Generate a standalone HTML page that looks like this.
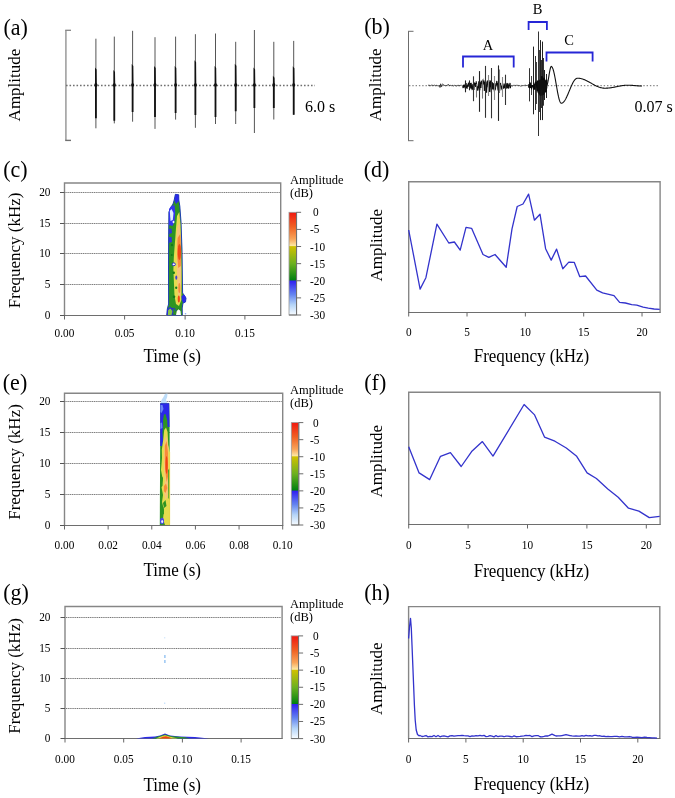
<!DOCTYPE html>
<html><head><meta charset="utf-8"><style>
html,body{margin:0;padding:0;background:#fff;}
svg{display:block;will-change:transform;}
text{font-family:"Liberation Serif",serif;fill:#000;}
</style></head><body>
<svg width="675" height="798" viewBox="0 0 675 798">
<defs>
<linearGradient id="cbg" x1="0" y1="0" x2="0" y2="1">
<stop offset="0" stop-color="#f01810"/>
<stop offset="0.14" stop-color="#f06022"/>
<stop offset="0.26" stop-color="#f8a458"/>
<stop offset="0.325" stop-color="#fde8a4"/>
<stop offset="0.334" stop-color="#d0c000"/>
<stop offset="0.5" stop-color="#6cb020"/>
<stop offset="0.66" stop-color="#008010"/>
<stop offset="0.668" stop-color="#3020f0"/>
<stop offset="0.8" stop-color="#6484f0"/>
<stop offset="0.9" stop-color="#b4d4f8"/>
<stop offset="1" stop-color="#f8fcff"/>
</linearGradient>
<filter id="soft" x="-0.2" y="-0.1" width="1.4" height="1.2"><feGaussianBlur stdDeviation="0.35"/></filter>
</defs>
<rect width="675" height="798" fill="#fff"/>
<text transform="translate(3.40 34.80) scale(1 1.05)" font-size="22" text-anchor="start">(a)</text>
<text transform="translate(364.30 34.30) scale(1 1.05)" font-size="22" text-anchor="start">(b)</text>
<text transform="translate(3.20 176.70) scale(1 1.05)" font-size="22" text-anchor="start">(c)</text>
<text transform="translate(363.80 176.80) scale(1 1.05)" font-size="22" text-anchor="start">(d)</text>
<text transform="translate(2.80 389.60) scale(1 1.05)" font-size="22" text-anchor="start">(e)</text>
<text transform="translate(364.30 389.90) scale(1 1.05)" font-size="22" text-anchor="start">(f)</text>
<text transform="translate(3.20 599.50) scale(1 1.05)" font-size="22" text-anchor="start">(g)</text>
<text transform="translate(364.30 599.80) scale(1 1.05)" font-size="22" text-anchor="start">(h)</text>
<line x1="65.90" y1="30.30" x2="65.90" y2="140.40" stroke="#9a9a9a" stroke-width="1.5" />
<line x1="65.20" y1="30.30" x2="71.00" y2="30.30" stroke="#858585" stroke-width="1.3" />
<line x1="65.20" y1="140.40" x2="71.00" y2="140.40" stroke="#707070" stroke-width="1.4" />
<line x1="66.00" y1="85.50" x2="315.00" y2="85.50" stroke="#707070" stroke-width="1.3" stroke-dasharray="1.6 1.9"/>
<text transform="translate(19.60 121.40) rotate(-90)" font-size="17" text-anchor="start">Amplitude</text>
<text transform="translate(305.00 112.00) scale(1 1.0)" font-size="16" text-anchor="start">6.0 s</text>
<line x1="95.90" y1="38.70" x2="95.90" y2="128.30" stroke="#555" stroke-width="1" />
<path d="M95.00,67.5 L96.60,69.5 L96.80,83 L97.50,85 L96.80,87 L96.80,118.2 L95.00,118.2 L95.00,87 L94.30,85 L95.00,83 Z" fill="#111"/>
<line x1="114.30" y1="36.60" x2="114.30" y2="123.40" stroke="#555" stroke-width="1" />
<path d="M113.40,70.1 L115.00,72.1 L115.20,83 L115.90,85 L115.20,87 L115.20,120.8 L113.40,120.8 L113.40,87 L112.70,85 L113.40,83 Z" fill="#111"/>
<line x1="132.60" y1="30.80" x2="132.60" y2="121.70" stroke="#555" stroke-width="1" />
<path d="M131.70,64 L133.30,66 L133.50,83 L134.20,85 L133.50,87 L133.50,112 L131.70,112 L131.70,87 L131.00,85 L131.70,83 Z" fill="#111"/>
<line x1="155.00" y1="37.20" x2="155.00" y2="128.90" stroke="#555" stroke-width="1" />
<path d="M154.10,66 L155.70,68 L155.90,83 L156.60,85 L155.90,87 L155.90,117 L154.10,117 L154.10,87 L153.40,85 L154.10,83 Z" fill="#111"/>
<line x1="175.60" y1="36.60" x2="175.60" y2="119.60" stroke="#555" stroke-width="1" />
<path d="M174.70,66 L176.30,68 L176.50,83 L177.20,85 L176.50,87 L176.50,113 L174.70,113 L174.70,87 L174.00,85 L174.70,83 Z" fill="#111"/>
<line x1="195.40" y1="34.20" x2="195.40" y2="127.80" stroke="#555" stroke-width="1" />
<path d="M194.50,60.3 L196.10,62.3 L196.30,83 L197.00,85 L196.30,87 L196.30,115 L194.50,115 L194.50,87 L193.80,85 L194.50,83 Z" fill="#111"/>
<line x1="215.50" y1="33.50" x2="215.50" y2="124.00" stroke="#555" stroke-width="1" />
<path d="M214.60,66 L216.20,68 L216.40,83 L217.10,85 L216.40,87 L216.40,117 L214.60,117 L214.60,87 L213.90,85 L214.60,83 Z" fill="#111"/>
<line x1="235.70" y1="41.80" x2="235.70" y2="124.00" stroke="#555" stroke-width="1" />
<path d="M234.80,63.8 L236.40,65.8 L236.60,83 L237.30,85 L236.60,87 L236.60,111.2 L234.80,111.2 L234.80,87 L234.10,85 L234.80,83 Z" fill="#111"/>
<line x1="254.40" y1="30.00" x2="254.40" y2="133.00" stroke="#555" stroke-width="1" />
<path d="M253.50,67.4 L255.10,69.4 L255.30,83 L256.00,85 L255.30,87 L255.30,108 L253.50,108 L253.50,87 L252.80,85 L253.50,83 Z" fill="#111"/>
<line x1="273.80" y1="41.80" x2="273.80" y2="119.50" stroke="#555" stroke-width="1" />
<path d="M272.90,75.7 L274.50,77.7 L274.70,83 L275.40,85 L274.70,87 L274.70,108 L272.90,108 L272.90,87 L272.20,85 L272.90,83 Z" fill="#111"/>
<line x1="293.70" y1="40.90" x2="293.70" y2="114.80" stroke="#555" stroke-width="1" />
<path d="M292.80,66.2 L294.40,68.2 L294.60,83 L295.30,85 L294.60,87 L294.60,114.8 L292.80,114.8 L292.80,87 L292.10,85 L292.80,83 Z" fill="#111"/>
<line x1="408.50" y1="31.30" x2="408.50" y2="140.70" stroke="#6c6c6c" stroke-width="1" />
<line x1="408.00" y1="31.30" x2="413.50" y2="31.30" stroke="#6c6c6c" stroke-width="1" />
<line x1="408.00" y1="140.70" x2="413.50" y2="140.70" stroke="#6c6c6c" stroke-width="1" />
<line x1="409.00" y1="85.60" x2="658.00" y2="85.60" stroke="#888" stroke-width="1.2" stroke-dasharray="1.4 1.9"/>
<text transform="translate(380.70 121.20) rotate(-90)" font-size="17" text-anchor="start">Amplitude</text>
<text transform="translate(634.50 112.00) scale(1 1.0)" font-size="16" text-anchor="start">0.07 s</text>
<path d="M463,67.5 L463,56.5 L513.7,56.5 L513.7,67.5" fill="none" stroke="#2626d6" stroke-width="1.8"/>
<text transform="translate(488.00 49.80) scale(1 1.04)" font-size="14.5" text-anchor="middle">A</text>
<path d="M528.6,30 L528.6,22 L546.9,22 L546.9,30" fill="none" stroke="#2626d6" stroke-width="1.8"/>
<text transform="translate(537.50 13.80) scale(1 1.04)" font-size="14.5" text-anchor="middle">B</text>
<path d="M546.5,61.5 L546.5,52.5 L592.6,52.5 L592.6,61.5" fill="none" stroke="#2626d6" stroke-width="1.8"/>
<text transform="translate(569.00 45.40) scale(1 1.04)" font-size="14.5" text-anchor="middle">C</text>
<path d="M428.00,85.42 L428.60,85.25 L429.20,85.75 L429.80,85.17 L430.40,85.64 L431.00,85.47 L431.60,85.16 L432.20,85.61 L432.80,85.14 L433.40,85.53 L434.00,85.17 L434.60,85.19 L435.20,85.52 L435.80,85.93 L436.40,85.22 L437.00,85.32 L437.60,85.73 L438.20,86.05 L438.80,85.68 L439.40,85.50 L440.00,87.51 L440.60,83.79 L441.20,87.03 L441.80,84.76 L442.40,84.18 L443.00,84.07 L443.60,84.83 L444.20,85.92 L444.80,85.28 L445.40,85.68 L446.00,85.74 L446.60,85.47 L447.20,85.71 L447.80,84.55 L448.40,84.54 L449.00,84.89 L449.60,86.03 L450.20,85.43 L450.80,85.15 L451.40,85.81 L452.00,85.55 L452.60,85.40 L453.20,85.89 L453.80,85.80 L454.40,85.34 L455.00,85.67 L455.60,85.63 L456.20,85.98 L456.80,85.83 L457.40,85.39 L458.00,86.08 L458.60,85.22 L459.20,85.52 L459.80,85.86 L460.40,85.25 L461.00,85.59 L461.60,85.14" fill="none" stroke="#222" stroke-width="0.8"/>
<path d="M462.50,86.55 L462.78,87.07 L463.06,86.07 L463.34,87.70 L463.62,84.69 L463.90,86.76 L464.18,86.22 L464.46,86.15 L464.74,85.47 L465.02,87.65 L465.30,88.28 L465.58,85.58 L465.86,86.70 L466.14,83.14 L466.42,86.96 L466.70,86.65 L466.98,88.80 L467.26,87.78 L467.54,84.42 L467.82,85.06 L468.10,86.89 L468.38,82.67 L468.66,85.56 L468.94,83.58 L469.22,83.21 L469.50,82.78 L469.78,87.74 L470.06,83.21 L470.34,84.04 L470.62,85.08 L470.90,88.66 L471.18,82.73 L471.46,85.52 L471.74,86.31 L472.02,88.96 L472.30,88.50 L472.58,88.91 L472.86,84.14 L473.14,85.27 L473.42,84.79 L473.70,89.31 L473.98,90.01 L474.26,82.93 L474.54,83.13 L474.82,83.61 L475.10,83.60 L475.38,85.93 L475.66,86.93 L475.94,83.82 L476.22,81.28 L476.50,85.32 L476.78,84.83 L477.06,86.81 L477.34,90.79 L477.62,88.14 L477.90,86.34 L478.18,87.44 L478.46,88.09 L478.74,81.38 L479.02,90.60 L479.30,89.33 L479.58,90.43 L479.86,89.62 L480.14,85.04 L480.42,85.11 L480.70,81.69 L480.98,87.86 L481.26,81.14 L481.54,81.17 L481.82,82.84 L482.10,82.26 L482.38,84.40 L482.66,80.88 L482.94,80.21 L483.22,82.05 L483.50,81.42 L483.78,84.67 L484.06,80.43 L484.34,91.08 L484.62,87.82 L484.90,81.94 L485.18,83.25 L485.46,84.45 L485.74,84.66 L486.02,81.58 L486.30,90.86 L486.58,92.71 L486.86,85.96 L487.14,86.19 L487.42,81.10 L487.70,81.31 L487.98,84.39 L488.26,83.40 L488.54,90.58 L488.82,82.09 L489.10,80.35 L489.38,92.07 L489.66,86.73 L489.94,81.95 L490.22,86.91 L490.50,80.49 L490.78,86.70 L491.06,92.22 L491.34,90.78 L491.62,88.72 L491.90,83.45 L492.18,84.73 L492.46,82.36 L492.74,89.51 L493.02,86.68 L493.30,89.52 L493.58,84.32 L493.86,83.11 L494.14,89.77 L494.42,91.66 L494.70,90.14 L494.98,89.58 L495.26,89.66 L495.54,88.77 L495.82,83.29 L496.10,86.36 L496.38,84.67 L496.66,81.34 L496.94,81.37 L497.22,83.93 L497.50,83.75 L497.78,87.98 L498.06,90.48 L498.34,85.58 L498.62,90.16 L498.90,90.57 L499.18,90.19 L499.46,84.82 L499.74,83.55 L500.02,83.63 L500.30,83.39 L500.58,83.48 L500.86,87.02 L501.14,89.27 L501.42,88.72 L501.70,85.78 L501.98,87.14 L502.26,88.25 L502.54,82.73 L502.82,87.12 L503.10,88.94 L503.38,87.95 L503.66,87.68 L503.94,85.70 L504.22,83.59 L504.50,87.85 L504.78,84.69 L505.06,87.85 L505.34,88.96 L505.62,85.12 L505.90,85.16 L506.18,88.65 L506.46,87.20 L506.74,83.72 L507.02,83.47 L507.30,83.64 L507.58,88.18 L507.86,87.57 L508.14,83.66 L508.42,87.63 L508.70,88.48 L508.98,86.61 L509.26,84.88 L509.54,85.98 L509.82,83.68 L510.10,83.05 L510.38,88.23 L510.66,86.49 L510.94,85.83" fill="none" stroke="#0d0d0d" stroke-width="1.05"/>
<path d="M511.00,86.12 L511.60,85.52 L512.20,86.05 L512.80,85.99 L513.40,85.25 L514.00,85.30 L514.60,85.35 L515.20,85.29 L515.80,85.70 L516.40,85.31 L517.00,85.50 L517.60,85.16 L518.20,86.09 L518.80,85.42 L519.40,85.55 L520.00,85.70 L520.60,86.09 L521.20,85.50 L521.80,86.10 L522.40,85.60 L523.00,85.64 L523.60,85.63 L524.20,85.02 L524.80,85.53 L525.40,85.22 L526.00,85.00 L526.60,85.96 L527.20,85.21 L527.80,85.57" fill="none" stroke="#333" stroke-width="0.8"/>
<line x1="465.50" y1="80.40" x2="465.50" y2="92.30" stroke="#222" stroke-width="1.1" />
<line x1="469.50" y1="80.40" x2="469.50" y2="90.30" stroke="#222" stroke-width="1.1" />
<line x1="473.50" y1="76.30" x2="473.50" y2="101.20" stroke="#333" stroke-width="1.1" />
<line x1="476.50" y1="84.00" x2="476.50" y2="97.50" stroke="#777" stroke-width="1.1" />
<line x1="479.50" y1="71.10" x2="479.50" y2="111.80" stroke="#222" stroke-width="1.1" />
<line x1="482.50" y1="80.00" x2="482.50" y2="98.60" stroke="#777" stroke-width="1.1" />
<line x1="485.50" y1="65.90" x2="485.50" y2="117.80" stroke="#333" stroke-width="1.1" />
<line x1="488.50" y1="75.00" x2="488.50" y2="96.00" stroke="#888" stroke-width="1.1" />
<line x1="491.50" y1="68.00" x2="491.50" y2="118.30" stroke="#333" stroke-width="1.1" />
<line x1="494.50" y1="76.00" x2="494.50" y2="100.00" stroke="#888" stroke-width="1.1" />
<line x1="498.50" y1="65.40" x2="498.50" y2="120.90" stroke="#222" stroke-width="1.1" />
<line x1="499.50" y1="69.50" x2="499.50" y2="93.00" stroke="#777" stroke-width="1.1" />
<line x1="502.50" y1="77.00" x2="502.50" y2="97.00" stroke="#888" stroke-width="1.1" />
<line x1="505.50" y1="74.70" x2="505.50" y2="105.00" stroke="#333" stroke-width="1.1" />
<line x1="529.50" y1="68.20" x2="529.50" y2="101.40" stroke="#333" stroke-width="1.0" />
<line x1="531.50" y1="76.00" x2="531.50" y2="95.00" stroke="#444" stroke-width="1.0" />
<line x1="533.50" y1="46.60" x2="533.50" y2="114.30" stroke="#222" stroke-width="1.0" />
<line x1="535.50" y1="56.00" x2="535.50" y2="110.00" stroke="#333" stroke-width="1.0" />
<line x1="536.50" y1="62.00" x2="536.50" y2="104.00" stroke="#444" stroke-width="1.0" />
<line x1="538.50" y1="31.50" x2="538.50" y2="136.00" stroke="#333" stroke-width="1.0" />
<line x1="539.50" y1="50.00" x2="539.50" y2="112.00" stroke="#444" stroke-width="1.0" />
<line x1="540.50" y1="40.10" x2="540.50" y2="120.10" stroke="#222" stroke-width="1.0" />
<line x1="541.50" y1="60.00" x2="541.50" y2="108.00" stroke="#333" stroke-width="1.0" />
<line x1="542.50" y1="41.60" x2="542.50" y2="120.10" stroke="#222" stroke-width="1.0" />
<line x1="543.50" y1="58.00" x2="543.50" y2="105.70" stroke="#333" stroke-width="1.0" />
<line x1="544.50" y1="70.00" x2="544.50" y2="100.00" stroke="#222" stroke-width="1.0" />
<line x1="546.50" y1="74.00" x2="546.50" y2="98.00" stroke="#222" stroke-width="1.0" />
<path d="M528.50,87.63 L528.72,86.11 L528.94,84.03 L529.16,85.77 L529.38,86.10 L529.60,88.16 L529.82,82.05 L530.04,86.14 L530.26,83.34 L530.48,83.59 L530.70,88.05 L530.92,85.67 L531.14,86.16 L531.36,87.94 L531.58,89.31 L531.80,85.09 L532.02,86.61 L532.24,85.65 L532.46,85.71 L532.68,87.33 L532.90,85.17 L533.12,85.90 L533.34,85.40 L533.56,89.57 L533.78,87.39 L534.00,88.99 L534.22,89.58 L534.44,83.44 L534.66,86.14 L534.88,89.59 L535.10,88.66 L535.32,82.33 L535.54,82.19 L535.76,85.08 L535.98,81.75 L536.20,83.27 L536.42,81.76 L536.64,87.13 L536.86,88.16 L537.08,91.20 L537.30,80.64 L537.52,88.76 L537.74,87.99 L537.96,80.19 L538.18,91.50 L538.40,92.93 L538.62,81.13 L538.84,92.93 L539.06,83.92 L539.28,85.39 L539.50,93.93 L539.72,91.34 L539.94,79.67 L540.16,84.38 L540.38,85.88 L540.60,82.65 L540.82,79.95 L541.04,82.18 L541.26,89.85 L541.48,76.29 L541.70,86.66 L541.92,84.41 L542.14,76.04 L542.36,82.30 L542.58,87.99 L542.80,85.83 L543.02,77.42 L543.24,94.58 L543.46,90.86 L543.68,94.08 L543.90,78.60 L544.12,81.51 L544.34,77.68 L544.56,90.32 L544.78,81.77 L545.00,79.52 L545.22,84.35 L545.44,92.13 L545.66,90.58 L545.88,81.90 L546.10,80.31 L546.32,91.81 L546.54,86.63 L546.76,88.46 L546.98,79.84" fill="none" stroke="#0a0a0a" stroke-width="1.1"/>
<path d="M537.50,82.00 L540.00,79.50 L544.00,80.00 L546.80,83.00 L546.80,90.00 L544.00,95.00 L540.00,96.00 L537.50,92.00Z" fill="#111" stroke="none" stroke-width="0" opacity="0.85"/>
<path d="M546.50,85.60 L546.94,85.21 L547.37,84.08 L547.81,82.30 L548.25,80.02 L548.68,77.41 L549.12,74.69 L549.55,72.08 L549.99,69.80 L550.43,68.02 L550.86,66.89 L551.30,66.50 L551.75,66.69 L552.21,67.25 L552.66,68.16 L553.12,69.42 L553.57,70.99 L554.03,72.85 L554.48,74.95 L554.94,77.26 L555.39,79.72 L555.85,82.28 L556.30,84.90 L556.75,87.52 L557.21,90.08 L557.66,92.54 L558.12,94.85 L558.57,96.95 L559.03,98.81 L559.48,100.38 L559.94,101.64 L560.39,102.55 L560.85,103.11 L561.30,103.30 L561.77,103.25 L562.25,103.09 L562.72,102.82 L563.19,102.45 L563.67,101.98 L564.14,101.42 L564.61,100.77 L565.09,100.02 L565.56,99.20 L566.04,98.31 L566.51,97.36 L566.98,96.34 L567.46,95.28 L567.93,94.18 L568.40,93.06 L568.88,91.91 L569.35,90.75 L569.82,89.59 L570.30,88.44 L570.77,87.32 L571.24,86.22 L571.72,85.16 L572.19,84.14 L572.66,83.19 L573.14,82.30 L573.61,81.48 L574.09,80.73 L574.56,80.08 L575.03,79.52 L575.51,79.05 L575.98,78.68 L576.45,78.41 L576.93,78.25 L577.40,78.20 L577.88,78.21 L578.37,78.23 L578.85,78.27 L579.34,78.32 L579.82,78.39 L580.31,78.47 L580.79,78.57 L581.27,78.68 L581.76,78.80 L582.24,78.94 L582.73,79.09 L583.21,79.25 L583.69,79.43 L584.18,79.62 L584.66,79.81 L585.15,80.02 L585.63,80.24 L586.12,80.47 L586.60,80.70 L587.08,80.94 L587.57,81.19 L588.05,81.45 L588.54,81.71 L589.02,81.97 L589.51,82.24 L589.99,82.51 L590.47,82.79 L590.96,83.06 L591.44,83.34 L591.93,83.61 L592.41,83.89 L592.89,84.16 L593.38,84.43 L593.86,84.69 L594.35,84.95 L594.83,85.21 L595.32,85.46 L595.80,85.70 L596.28,85.93 L596.77,86.16 L597.25,86.38 L597.74,86.59 L598.22,86.78 L598.71,86.97 L599.19,87.15 L599.67,87.31 L600.16,87.46 L600.64,87.60 L601.13,87.72 L601.61,87.83 L602.09,87.93 L602.58,88.01 L603.06,88.08 L603.55,88.13 L604.03,88.17 L604.52,88.19 L605.00,88.20 L605.48,88.20 L605.96,88.19 L606.44,88.17 L606.92,88.15 L607.40,88.12 L607.88,88.09 L608.35,88.05 L608.83,88.00 L609.31,87.95 L609.79,87.89 L610.27,87.83 L610.75,87.76 L611.23,87.69 L611.71,87.61 L612.19,87.53 L612.67,87.45 L613.15,87.36 L613.62,87.27 L614.10,87.18 L614.58,87.09 L615.06,86.99 L615.54,86.90 L616.02,86.80 L616.50,86.70 L616.98,86.60 L617.46,86.50 L617.94,86.41 L618.42,86.31 L618.90,86.22 L619.38,86.13 L619.85,86.04 L620.33,85.95 L620.81,85.87 L621.29,85.79 L621.77,85.71 L622.25,85.64 L622.73,85.57 L623.21,85.51 L623.69,85.45 L624.17,85.40 L624.65,85.35 L625.12,85.31 L625.60,85.28 L626.08,85.25 L626.56,85.23 L627.04,85.21 L627.52,85.20 L628.00,85.20 L628.47,85.20 L628.93,85.21 L629.40,85.22 L629.87,85.23 L630.33,85.25 L630.80,85.28 L631.27,85.30 L631.73,85.33 L632.20,85.36 L632.67,85.40 L633.13,85.44 L633.60,85.48 L634.07,85.52 L634.53,85.56 L635.00,85.60 L635.47,85.64 L635.93,85.68 L636.40,85.72 L636.87,85.76 L637.33,85.80 L637.80,85.84 L638.27,85.87 L638.73,85.90 L639.20,85.92 L639.67,85.95 L640.13,85.97 L640.60,85.98 L641.07,85.99 L641.53,86.00 L642.00,86.00" fill="none" stroke="#111" stroke-width="1.1"/>
<line x1="65.50" y1="192.50" x2="279.70" y2="192.50" stroke="#cfcfcf" stroke-width="1"/>
<line x1="65.50" y1="192.50" x2="279.70" y2="192.50" stroke="#767676" stroke-width="1" stroke-dasharray="1 1.2"/>
<line x1="65.50" y1="223.50" x2="279.70" y2="223.50" stroke="#cfcfcf" stroke-width="1"/>
<line x1="65.50" y1="223.50" x2="279.70" y2="223.50" stroke="#767676" stroke-width="1" stroke-dasharray="1 1.2"/>
<line x1="65.50" y1="253.50" x2="279.70" y2="253.50" stroke="#cfcfcf" stroke-width="1"/>
<line x1="65.50" y1="253.50" x2="279.70" y2="253.50" stroke="#767676" stroke-width="1" stroke-dasharray="1 1.2"/>
<line x1="65.50" y1="284.50" x2="279.70" y2="284.50" stroke="#cfcfcf" stroke-width="1"/>
<line x1="65.50" y1="284.50" x2="279.70" y2="284.50" stroke="#767676" stroke-width="1" stroke-dasharray="1 1.2"/>
<path d="M64.50,315.5 L64.50,183.00 L280.70,183.00 L280.70,315.5" fill="none" stroke="#868686" stroke-width="1.4"/>
<line x1="63.90" y1="315.5" x2="281.30" y2="315.5" stroke="#6e6e6e" stroke-width="1.1"/>
<line x1="60.00" y1="192.50" x2="64.50" y2="192.50" stroke="#555" stroke-width="1" />
<text transform="translate(50.50 196.40) scale(1 1.04)" font-size="11.3" text-anchor="end">20</text>
<line x1="60.00" y1="223.50" x2="64.50" y2="223.50" stroke="#555" stroke-width="1" />
<text transform="translate(50.50 227.40) scale(1 1.04)" font-size="11.3" text-anchor="end">15</text>
<line x1="60.00" y1="253.50" x2="64.50" y2="253.50" stroke="#555" stroke-width="1" />
<text transform="translate(50.50 257.40) scale(1 1.04)" font-size="11.3" text-anchor="end">10</text>
<line x1="60.00" y1="284.50" x2="64.50" y2="284.50" stroke="#555" stroke-width="1" />
<text transform="translate(50.50 288.40) scale(1 1.04)" font-size="11.3" text-anchor="end">5</text>
<line x1="60.00" y1="315.50" x2="64.50" y2="315.50" stroke="#555" stroke-width="1" />
<text transform="translate(50.50 319.40) scale(1 1.04)" font-size="11.3" text-anchor="end">0</text>
<line x1="64.50" y1="315.50" x2="64.50" y2="319.50" stroke="#666" stroke-width="1" />
<text transform="translate(64.50 336.90) scale(1 1.04)" font-size="11.3" text-anchor="middle">0.00</text>
<line x1="124.60" y1="315.50" x2="124.60" y2="319.50" stroke="#666" stroke-width="1" />
<text transform="translate(124.60 336.90) scale(1 1.04)" font-size="11.3" text-anchor="middle">0.05</text>
<line x1="185.10" y1="315.50" x2="185.10" y2="319.50" stroke="#666" stroke-width="1" />
<text transform="translate(185.10 336.90) scale(1 1.04)" font-size="11.3" text-anchor="middle">0.10</text>
<line x1="244.90" y1="315.50" x2="244.90" y2="319.50" stroke="#666" stroke-width="1" />
<text transform="translate(244.90 336.90) scale(1 1.04)" font-size="11.3" text-anchor="middle">0.15</text>
<text transform="translate(172.20 362.00) scale(1 1.06)" font-size="17" text-anchor="middle">Time (s)</text>
<text transform="translate(19.60 308.20) rotate(-90)" font-size="17" text-anchor="start">Frequency (kHz)</text>
<rect x="289" y="212.3" width="7.60" height="102.70" fill="url(#cbg)" stroke="#9a9a9a" stroke-width="0.8"/>
<line x1="296.60" y1="212.30" x2="296.60" y2="315.00" stroke="#6c6c6c" stroke-width="1" />
<line x1="289.00" y1="315.00" x2="296.60" y2="315.00" stroke="#6c6c6c" stroke-width="1" />
<line x1="296.60" y1="212.30" x2="301.10" y2="212.30" stroke="#6c6c6c" stroke-width="1" />
<text transform="translate(313.00 216.30) scale(1 1.04)" font-size="11.3" text-anchor="start">0</text>
<line x1="296.60" y1="229.42" x2="301.10" y2="229.42" stroke="#6c6c6c" stroke-width="1" />
<text transform="translate(310.00 233.42) scale(1 1.04)" font-size="11.3" text-anchor="start">-5</text>
<line x1="296.60" y1="246.53" x2="301.10" y2="246.53" stroke="#6c6c6c" stroke-width="1" />
<text transform="translate(310.00 250.53) scale(1 1.04)" font-size="11.3" text-anchor="start">-10</text>
<line x1="296.60" y1="263.65" x2="301.10" y2="263.65" stroke="#6c6c6c" stroke-width="1" />
<text transform="translate(310.00 267.65) scale(1 1.04)" font-size="11.3" text-anchor="start">-15</text>
<line x1="296.60" y1="280.77" x2="301.10" y2="280.77" stroke="#6c6c6c" stroke-width="1" />
<text transform="translate(310.00 284.77) scale(1 1.04)" font-size="11.3" text-anchor="start">-20</text>
<line x1="296.60" y1="297.88" x2="301.10" y2="297.88" stroke="#6c6c6c" stroke-width="1" />
<text transform="translate(310.00 301.88) scale(1 1.04)" font-size="11.3" text-anchor="start">-25</text>
<line x1="296.60" y1="315.00" x2="301.10" y2="315.00" stroke="#6c6c6c" stroke-width="1" />
<text transform="translate(310.00 319.00) scale(1 1.04)" font-size="11.3" text-anchor="start">-30</text>
<text transform="translate(290.00 183.50) scale(1 1.04)" font-size="12.5" text-anchor="start">Amplitude</text>
<text transform="translate(290.00 197.10) scale(1 1.04)" font-size="12.5" text-anchor="start">(dB)</text>
<line x1="65.50" y1="401.50" x2="281.70" y2="401.50" stroke="#cfcfcf" stroke-width="1"/>
<line x1="65.50" y1="401.50" x2="281.70" y2="401.50" stroke="#767676" stroke-width="1" stroke-dasharray="1 1.2"/>
<line x1="65.50" y1="432.50" x2="281.70" y2="432.50" stroke="#cfcfcf" stroke-width="1"/>
<line x1="65.50" y1="432.50" x2="281.70" y2="432.50" stroke="#767676" stroke-width="1" stroke-dasharray="1 1.2"/>
<line x1="65.50" y1="463.50" x2="281.70" y2="463.50" stroke="#cfcfcf" stroke-width="1"/>
<line x1="65.50" y1="463.50" x2="281.70" y2="463.50" stroke="#767676" stroke-width="1" stroke-dasharray="1 1.2"/>
<line x1="65.50" y1="494.50" x2="281.70" y2="494.50" stroke="#cfcfcf" stroke-width="1"/>
<line x1="65.50" y1="494.50" x2="281.70" y2="494.50" stroke="#767676" stroke-width="1" stroke-dasharray="1 1.2"/>
<path d="M64.50,525.5 L64.50,393.30 L282.70,393.30 L282.70,525.5" fill="none" stroke="#868686" stroke-width="1.4"/>
<line x1="63.90" y1="525.5" x2="283.30" y2="525.5" stroke="#6e6e6e" stroke-width="1.1"/>
<line x1="60.00" y1="401.50" x2="64.50" y2="401.50" stroke="#555" stroke-width="1" />
<text transform="translate(50.50 405.40) scale(1 1.04)" font-size="11.3" text-anchor="end">20</text>
<line x1="60.00" y1="432.50" x2="64.50" y2="432.50" stroke="#555" stroke-width="1" />
<text transform="translate(50.50 436.40) scale(1 1.04)" font-size="11.3" text-anchor="end">15</text>
<line x1="60.00" y1="463.50" x2="64.50" y2="463.50" stroke="#555" stroke-width="1" />
<text transform="translate(50.50 467.40) scale(1 1.04)" font-size="11.3" text-anchor="end">10</text>
<line x1="60.00" y1="494.50" x2="64.50" y2="494.50" stroke="#555" stroke-width="1" />
<text transform="translate(50.50 498.40) scale(1 1.04)" font-size="11.3" text-anchor="end">5</text>
<line x1="60.00" y1="525.50" x2="64.50" y2="525.50" stroke="#555" stroke-width="1" />
<text transform="translate(50.50 529.40) scale(1 1.04)" font-size="11.3" text-anchor="end">0</text>
<line x1="64.50" y1="525.50" x2="64.50" y2="529.50" stroke="#666" stroke-width="1" />
<text transform="translate(64.50 548.60) scale(1 1.04)" font-size="11.3" text-anchor="middle">0.00</text>
<line x1="108.14" y1="525.50" x2="108.14" y2="529.50" stroke="#666" stroke-width="1" />
<text transform="translate(108.14 548.60) scale(1 1.04)" font-size="11.3" text-anchor="middle">0.02</text>
<line x1="151.78" y1="525.50" x2="151.78" y2="529.50" stroke="#666" stroke-width="1" />
<text transform="translate(151.78 548.60) scale(1 1.04)" font-size="11.3" text-anchor="middle">0.04</text>
<line x1="195.42" y1="525.50" x2="195.42" y2="529.50" stroke="#666" stroke-width="1" />
<text transform="translate(195.42 548.60) scale(1 1.04)" font-size="11.3" text-anchor="middle">0.06</text>
<line x1="239.06" y1="525.50" x2="239.06" y2="529.50" stroke="#666" stroke-width="1" />
<text transform="translate(239.06 548.60) scale(1 1.04)" font-size="11.3" text-anchor="middle">0.08</text>
<line x1="282.70" y1="525.50" x2="282.70" y2="529.50" stroke="#666" stroke-width="1" />
<text transform="translate(282.70 548.60) scale(1 1.04)" font-size="11.3" text-anchor="middle">0.10</text>
<text transform="translate(172.20 575.70) scale(1 1.06)" font-size="17" text-anchor="middle">Time (s)</text>
<text transform="translate(19.60 519.80) rotate(-90)" font-size="17" text-anchor="start">Frequency (kHz)</text>
<rect x="291.3" y="422.6" width="7.50" height="102.40" fill="url(#cbg)" stroke="#9a9a9a" stroke-width="0.8"/>
<line x1="298.80" y1="422.60" x2="298.80" y2="525.00" stroke="#6c6c6c" stroke-width="1" />
<line x1="291.30" y1="525.00" x2="298.80" y2="525.00" stroke="#6c6c6c" stroke-width="1" />
<line x1="298.80" y1="422.60" x2="303.30" y2="422.60" stroke="#6c6c6c" stroke-width="1" />
<text transform="translate(313.00 426.60) scale(1 1.04)" font-size="11.3" text-anchor="start">0</text>
<line x1="298.80" y1="439.67" x2="303.30" y2="439.67" stroke="#6c6c6c" stroke-width="1" />
<text transform="translate(310.00 443.67) scale(1 1.04)" font-size="11.3" text-anchor="start">-5</text>
<line x1="298.80" y1="456.73" x2="303.30" y2="456.73" stroke="#6c6c6c" stroke-width="1" />
<text transform="translate(310.00 460.73) scale(1 1.04)" font-size="11.3" text-anchor="start">-10</text>
<line x1="298.80" y1="473.80" x2="303.30" y2="473.80" stroke="#6c6c6c" stroke-width="1" />
<text transform="translate(310.00 477.80) scale(1 1.04)" font-size="11.3" text-anchor="start">-15</text>
<line x1="298.80" y1="490.87" x2="303.30" y2="490.87" stroke="#6c6c6c" stroke-width="1" />
<text transform="translate(310.00 494.87) scale(1 1.04)" font-size="11.3" text-anchor="start">-20</text>
<line x1="298.80" y1="507.93" x2="303.30" y2="507.93" stroke="#6c6c6c" stroke-width="1" />
<text transform="translate(310.00 511.93) scale(1 1.04)" font-size="11.3" text-anchor="start">-25</text>
<line x1="298.80" y1="525.00" x2="303.30" y2="525.00" stroke="#6c6c6c" stroke-width="1" />
<text transform="translate(310.00 529.00) scale(1 1.04)" font-size="11.3" text-anchor="start">-30</text>
<text transform="translate(290.00 393.50) scale(1 1.04)" font-size="12.5" text-anchor="start">Amplitude</text>
<text transform="translate(290.00 407.10) scale(1 1.04)" font-size="12.5" text-anchor="start">(dB)</text>
<line x1="66.00" y1="617.50" x2="281.10" y2="617.50" stroke="#cfcfcf" stroke-width="1"/>
<line x1="66.00" y1="617.50" x2="281.10" y2="617.50" stroke="#767676" stroke-width="1" stroke-dasharray="1 1.2"/>
<line x1="66.00" y1="648.50" x2="281.10" y2="648.50" stroke="#cfcfcf" stroke-width="1"/>
<line x1="66.00" y1="648.50" x2="281.10" y2="648.50" stroke="#767676" stroke-width="1" stroke-dasharray="1 1.2"/>
<line x1="66.00" y1="678.50" x2="281.10" y2="678.50" stroke="#cfcfcf" stroke-width="1"/>
<line x1="66.00" y1="678.50" x2="281.10" y2="678.50" stroke="#767676" stroke-width="1" stroke-dasharray="1 1.2"/>
<line x1="66.00" y1="708.50" x2="281.10" y2="708.50" stroke="#cfcfcf" stroke-width="1"/>
<line x1="66.00" y1="708.50" x2="281.10" y2="708.50" stroke="#767676" stroke-width="1" stroke-dasharray="1 1.2"/>
<path d="M65.00,738.5 L65.00,606.50 L282.10,606.50 L282.10,738.5" fill="none" stroke="#868686" stroke-width="1.4"/>
<line x1="64.40" y1="738.5" x2="282.70" y2="738.5" stroke="#6e6e6e" stroke-width="1.1"/>
<line x1="60.50" y1="617.50" x2="65.00" y2="617.50" stroke="#555" stroke-width="1" />
<text transform="translate(50.50 621.40) scale(1 1.04)" font-size="11.3" text-anchor="end">20</text>
<line x1="60.50" y1="648.50" x2="65.00" y2="648.50" stroke="#555" stroke-width="1" />
<text transform="translate(50.50 652.40) scale(1 1.04)" font-size="11.3" text-anchor="end">15</text>
<line x1="60.50" y1="678.50" x2="65.00" y2="678.50" stroke="#555" stroke-width="1" />
<text transform="translate(50.50 682.40) scale(1 1.04)" font-size="11.3" text-anchor="end">10</text>
<line x1="60.50" y1="708.50" x2="65.00" y2="708.50" stroke="#555" stroke-width="1" />
<text transform="translate(50.50 712.40) scale(1 1.04)" font-size="11.3" text-anchor="end">5</text>
<line x1="60.50" y1="738.50" x2="65.00" y2="738.50" stroke="#555" stroke-width="1" />
<text transform="translate(50.50 742.40) scale(1 1.04)" font-size="11.3" text-anchor="end">0</text>
<line x1="65.00" y1="738.50" x2="65.00" y2="742.50" stroke="#666" stroke-width="1" />
<text transform="translate(65.00 762.90) scale(1 1.04)" font-size="11.3" text-anchor="middle">0.00</text>
<line x1="123.70" y1="738.50" x2="123.70" y2="742.50" stroke="#666" stroke-width="1" />
<text transform="translate(123.70 762.90) scale(1 1.04)" font-size="11.3" text-anchor="middle">0.05</text>
<line x1="182.40" y1="738.50" x2="182.40" y2="742.50" stroke="#666" stroke-width="1" />
<text transform="translate(182.40 762.90) scale(1 1.04)" font-size="11.3" text-anchor="middle">0.10</text>
<line x1="241.10" y1="738.50" x2="241.10" y2="742.50" stroke="#666" stroke-width="1" />
<text transform="translate(241.10 762.90) scale(1 1.04)" font-size="11.3" text-anchor="middle">0.15</text>
<text transform="translate(172.20 790.70) scale(1 1.06)" font-size="17" text-anchor="middle">Time (s)</text>
<text transform="translate(19.60 733.80) rotate(-90)" font-size="17" text-anchor="start">Frequency (kHz)</text>
<rect x="291.2" y="635.9" width="7.40" height="102.70" fill="url(#cbg)" stroke="#9a9a9a" stroke-width="0.8"/>
<line x1="298.60" y1="635.90" x2="298.60" y2="738.60" stroke="#6c6c6c" stroke-width="1" />
<line x1="291.20" y1="738.60" x2="298.60" y2="738.60" stroke="#6c6c6c" stroke-width="1" />
<line x1="298.60" y1="635.90" x2="303.10" y2="635.90" stroke="#6c6c6c" stroke-width="1" />
<text transform="translate(313.00 639.90) scale(1 1.04)" font-size="11.3" text-anchor="start">0</text>
<line x1="298.60" y1="653.02" x2="303.10" y2="653.02" stroke="#6c6c6c" stroke-width="1" />
<text transform="translate(310.00 657.02) scale(1 1.04)" font-size="11.3" text-anchor="start">-5</text>
<line x1="298.60" y1="670.13" x2="303.10" y2="670.13" stroke="#6c6c6c" stroke-width="1" />
<text transform="translate(310.00 674.13) scale(1 1.04)" font-size="11.3" text-anchor="start">-10</text>
<line x1="298.60" y1="687.25" x2="303.10" y2="687.25" stroke="#6c6c6c" stroke-width="1" />
<text transform="translate(310.00 691.25) scale(1 1.04)" font-size="11.3" text-anchor="start">-15</text>
<line x1="298.60" y1="704.37" x2="303.10" y2="704.37" stroke="#6c6c6c" stroke-width="1" />
<text transform="translate(310.00 708.37) scale(1 1.04)" font-size="11.3" text-anchor="start">-20</text>
<line x1="298.60" y1="721.48" x2="303.10" y2="721.48" stroke="#6c6c6c" stroke-width="1" />
<text transform="translate(310.00 725.48) scale(1 1.04)" font-size="11.3" text-anchor="start">-25</text>
<line x1="298.60" y1="738.60" x2="303.10" y2="738.60" stroke="#6c6c6c" stroke-width="1" />
<text transform="translate(310.00 742.60) scale(1 1.04)" font-size="11.3" text-anchor="start">-30</text>
<text transform="translate(290.00 607.60) scale(1 1.04)" font-size="12.5" text-anchor="start">Amplitude</text>
<text transform="translate(290.00 621.20) scale(1 1.04)" font-size="12.5" text-anchor="start">(dB)</text>
<g filter="url(#soft)">
<path d="M175.40,194.30 L178.70,194.80 L178.80,200.00 L179.80,206.00 L181.00,222.00 L182.00,250.00 L182.40,280.00 L182.60,293.00 L184.00,295.00 L186.00,298.00 L185.50,302.00 L183.00,303.00 L182.20,308.00 L182.30,315.00 L166.80,315.00 L167.30,309.00 L168.60,304.00 L168.50,270.00 L168.60,240.00 L168.90,212.00 L171.00,207.00 L173.00,204.00 L174.20,200.00Z" fill="#2e9424" stroke="#1f3fb0" stroke-width="1.0" />
<path d="M175.40,194.30 L178.70,194.80 L178.80,201.00 L176.00,204.00 L174.50,201.00Z" fill="#2a2ae8" stroke="none" stroke-width="0" />
<path d="M169.00,209.00 L171.00,206.50 L174.50,205.00 L175.20,212.00 L174.50,222.00 L172.50,226.00 L169.00,225.00Z" fill="#3434f0" stroke="none" stroke-width="0" />
<path d="M169.80,211.00 L171.50,209.00 L173.50,213.00 L172.80,220.00 L170.50,221.00Z" fill="#dfeeff" stroke="none" stroke-width="0" />
<ellipse cx="173.5" cy="222" rx="0.9" ry="1.2" fill="#f4f8ff"/>
<path d="M169.00,229.00 L171.50,228.50 L172.00,233.00 L169.20,234.00Z" fill="#3030e0" stroke="none" stroke-width="0" />
<path d="M169.00,237.00 L171.50,237.00 L172.00,242.00 L169.20,243.00Z" fill="#3030e0" stroke="none" stroke-width="0" />
<path d="M177.00,216.00 L179.30,212.00 L180.50,225.00 L181.20,250.00 L181.60,280.00 L181.40,300.00 L179.00,306.00 L176.00,304.00 L174.50,296.00 L174.00,284.00 L173.40,270.00 L173.80,258.00 L174.50,248.00 L175.30,238.00 L176.00,228.00Z" fill="#e4dc50" stroke="none" stroke-width="0" />
<path d="M177.60,226.00 L179.80,223.00 L180.80,245.00 L181.20,270.00 L180.80,295.00 L178.50,302.00 L177.50,290.00 L177.30,280.00 L176.80,265.00 L177.00,250.00 L176.60,236.00Z" fill="#f8c478" stroke="none" stroke-width="0" />
<path d="M177.60,238.00 L180.20,234.00 L181.20,252.00 L180.80,266.00 L178.30,268.00 L177.00,255.00Z" fill="#f88a38" stroke="none" stroke-width="0" />
<ellipse cx="179.4" cy="252" rx="1.6" ry="8" fill="#f04414"/>
<ellipse cx="179.3" cy="288" rx="1" ry="5" fill="#f88a38"/>
<ellipse cx="178.8" cy="299" rx="1.1" ry="3.5" fill="#f04414"/>
<ellipse cx="173.8" cy="264.3" rx="1.6" ry="1.4" fill="#f4f8ff" stroke="#2020d0" stroke-width="0.9"/>
<ellipse cx="173.8" cy="272.7" rx="1.2" ry="1.2" fill="#167a18"/>
<ellipse cx="176.3" cy="277.6" rx="1.0" ry="2.2" fill="#4040d0"/>
<ellipse cx="176.2" cy="287.8" rx="1.1" ry="1.3" fill="#167a18"/>
<ellipse cx="174" cy="296.8" rx="1.3" ry="1.3" fill="#167a18"/>
<ellipse cx="172" cy="245" rx="1.1" ry="1.2" fill="#167a18"/>
<ellipse cx="171.8" cy="255" rx="1.0" ry="1.0" fill="#167a18"/>
<path d="M181.50,296.00 L184.00,294.50 L186.00,297.50 L185.50,302.00 L183.00,303.00 L181.80,300.00Z" fill="#2a2ae8" stroke="none" stroke-width="0" />
<path d="M167.3,315 L167.6,310 L170,307.5 L172.5,309 L173,312 L172,315" fill="#8cc84c" stroke="#2a2ad8" stroke-width="1.1"/>
<path d="M175.5,315 L176.2,311 L178.5,308.5 L181,310.5 L181.5,315" fill="#fff" stroke="#2a8a20" stroke-width="1.1"/>
<path d="M171,310 L174,308 L176,311" fill="none" stroke="#2a2ad8" stroke-width="0.9"/>
<circle cx="185.5" cy="313.8" r="0.8" fill="#88a8f0"/>
<path d="M160.50,403.50 L161.50,400.00 L163.50,397.00 L165.00,394.00 L167.50,393.50 L167.20,397.00 L166.00,400.00 L167.50,403.50Z" fill="#bcdcf8" stroke="none" stroke-width="0" />
<path d="M160.20,403.20 L169.20,403.20 L169.60,420.00 L169.80,525.00 L159.80,525.00 L160.00,480.00 L160.20,440.00Z" fill="#2e9424" stroke="none" stroke-width="0" />
<path d="M160.20,403.20 L169.20,403.20 L169.50,427.00 L167.60,427.00 L167.20,420.00 L165.50,414.00 L164.00,414.50 L163.00,420.00 L163.20,426.00 L162.40,433.00 L163.00,440.00 L162.20,446.00 L160.20,446.00Z" fill="#2a2ae8" stroke="none" stroke-width="0" />
<path d="M160.50,405.00 L162.50,405.00 L163.50,409.00 L161.50,413.00 L160.40,412.00Z" fill="#6a86f2" stroke="none" stroke-width="0" />
<path d="M160.40,423.00 L162.00,422.50 L162.50,428.00 L160.40,429.00Z" fill="#6a86f2" stroke="none" stroke-width="0" />
<path d="M164.20,430.00 L166.00,427.50 L167.60,432.00 L168.30,445.00 L169.80,452.00 L169.80,525.00 L165.00,525.00 L163.00,519.00 L164.00,510.00 L162.00,502.00 L163.00,495.00 L161.50,487.00 L162.50,478.00 L161.00,470.00 L162.00,458.00 L161.80,450.00 L163.20,440.00Z" fill="#e4dc50" stroke="none" stroke-width="0" />
<path d="M164.50,440.00 L166.50,436.00 L168.30,447.00 L168.60,480.00 L167.50,497.00 L165.50,500.00 L163.50,490.00 L165.00,480.00 L164.00,470.00 L163.80,455.00Z" fill="#f8c478" stroke="none" stroke-width="0" />
<path d="M164.80,446.00 L166.60,441.00 L167.90,452.00 L168.10,476.00 L166.60,482.00 L165.10,470.00 L164.80,458.00Z" fill="#f88a38" stroke="none" stroke-width="0" />
<ellipse cx="166.6" cy="465" rx="1.1" ry="9" fill="#f04414"/>
<path d="M164.00,486.00 L166.00,483.50 L167.30,488.00 L165.50,493.00 L163.80,491.00Z" fill="#f88a38" stroke="none" stroke-width="0" />
<path d="M160.20,474.00 L163.00,478.00 L162.50,486.00 L160.20,488.00Z" fill="#2e9424" stroke="none" stroke-width="0" />
<path d="M168.20,470.00 L169.80,468.00 L169.80,500.00 L168.40,498.00Z" fill="#2e9424" stroke="none" stroke-width="0" />
<path d="M163.00,503.00 L165.50,500.00 L166.50,506.00 L164.00,508.00Z" fill="#2e9424" stroke="none" stroke-width="0" />
<path d="M160.50,508.00 L163.50,507.00 L164.00,514.00 L161.00,515.00Z" fill="#2e9424" stroke="none" stroke-width="0" />
<ellipse cx="162" cy="521" rx="2" ry="3.2" fill="#4848e8"/>
<ellipse cx="162.2" cy="521.5" rx="1" ry="1.5" fill="#eef4ff"/>
<line x1="169.60" y1="452.00" x2="169.60" y2="524.50" stroke="#ecd848" stroke-width="0.9" />
</g>
<path d="M136.00,738.60 L145.00,737.00 L155.00,736.50 L160.00,735.50 L165.00,733.60 L170.00,735.50 L180.00,736.50 L195.00,737.00 L209.00,738.60Z" fill="#2a2ae8" stroke="none" stroke-width="0" />
<path d="M152.00,738.60 L158.00,736.50 L165.00,734.60 L172.00,736.30 L185.00,737.20 L190.00,738.60Z" fill="#2e9424" stroke="none" stroke-width="0" />
<path d="M156.00,738.60 L161.00,736.50 L165.00,735.30 L170.00,736.70 L178.00,738.60Z" fill="#e4dc50" stroke="none" stroke-width="0" />
<path d="M159.00,738.60 L163.00,736.80 L166.00,736.20 L170.00,737.60 L172.00,738.60Z" fill="#f04414" stroke="none" stroke-width="0" />
<rect x="164.4" y="637" width="0.8" height="1.5" fill="#c0dcf8"/>
<rect x="164.3" y="655" width="1.2" height="3" fill="#80b8f0"/>
<rect x="164.3" y="660" width="1.2" height="3" fill="#80b8f0"/>
<rect x="164.4" y="702.5" width="0.8" height="1.5" fill="#a8d0f8"/>
<path d="M408.70,312.5 L408.70,181.80 L660.10,181.80 L660.10,312.5" fill="none" stroke="#868686" stroke-width="1.4"/>
<line x1="408.10" y1="312.5" x2="660.70" y2="312.5" stroke="#6e6e6e" stroke-width="1.1"/>
<line x1="408.70" y1="312.50" x2="408.70" y2="316.50" stroke="#666" stroke-width="1" />
<text transform="translate(408.70 336.00) scale(1 1.04)" font-size="11.3" text-anchor="middle">0</text>
<line x1="467.03" y1="312.50" x2="467.03" y2="316.50" stroke="#666" stroke-width="1" />
<text transform="translate(467.03 336.00) scale(1 1.04)" font-size="11.3" text-anchor="middle">5</text>
<line x1="525.36" y1="312.50" x2="525.36" y2="316.50" stroke="#666" stroke-width="1" />
<text transform="translate(525.36 336.00) scale(1 1.04)" font-size="11.3" text-anchor="middle">10</text>
<line x1="583.69" y1="312.50" x2="583.69" y2="316.50" stroke="#666" stroke-width="1" />
<text transform="translate(583.69 336.00) scale(1 1.04)" font-size="11.3" text-anchor="middle">15</text>
<line x1="642.02" y1="312.50" x2="642.02" y2="316.50" stroke="#666" stroke-width="1" />
<text transform="translate(642.02 336.00) scale(1 1.04)" font-size="11.3" text-anchor="middle">20</text>
<text transform="translate(531.50 361.80) scale(1 1.06)" font-size="17" text-anchor="middle">Frequency (kHz)</text>
<text transform="translate(381.70 281.60) rotate(-90)" font-size="17" text-anchor="start">Amplitude</text>
<path d="M408.70,230.00 L420.10,289.10 L425.90,277.70 L436.90,224.20 L448.80,243.00 L454.40,242.00 L460.20,250.10 L466.00,227.30 L471.60,228.30 L483.00,254.50 L488.80,257.40 L495.00,254.50 L506.20,267.30 L512.00,228.90 L517.20,206.50 L523.00,204.00 L528.60,194.10 L534.40,220.20 L540.00,214.20 L545.60,248.70 L551.20,260.10 L556.60,249.10 L562.80,268.80 L568.80,262.10 L574.20,262.30 L579.80,276.70 L585.60,276.00 L596.80,290.10 L602.60,292.80 L614.00,295.70 L619.60,302.40 L625.40,303.00 L631.70,304.70 L636.80,305.10 L643.10,307.20 L648.30,308.20 L654.10,309.00 L659.70,309.40" fill="none" stroke="#3333cc" stroke-width="1.3" stroke-linejoin="round"/>
<path d="M408.70,524.5 L408.70,392.30 L660.10,392.30 L660.10,524.5" fill="none" stroke="#868686" stroke-width="1.4"/>
<line x1="408.10" y1="524.5" x2="660.70" y2="524.5" stroke="#6e6e6e" stroke-width="1.1"/>
<line x1="408.70" y1="524.50" x2="408.70" y2="528.50" stroke="#666" stroke-width="1" />
<text transform="translate(408.70 548.60) scale(1 1.04)" font-size="11.3" text-anchor="middle">0</text>
<line x1="468.10" y1="524.50" x2="468.10" y2="528.50" stroke="#666" stroke-width="1" />
<text transform="translate(468.10 548.60) scale(1 1.04)" font-size="11.3" text-anchor="middle">5</text>
<line x1="527.50" y1="524.50" x2="527.50" y2="528.50" stroke="#666" stroke-width="1" />
<text transform="translate(527.50 548.60) scale(1 1.04)" font-size="11.3" text-anchor="middle">10</text>
<line x1="586.90" y1="524.50" x2="586.90" y2="528.50" stroke="#666" stroke-width="1" />
<text transform="translate(586.90 548.60) scale(1 1.04)" font-size="11.3" text-anchor="middle">15</text>
<line x1="646.30" y1="524.50" x2="646.30" y2="528.50" stroke="#666" stroke-width="1" />
<text transform="translate(646.30 548.60) scale(1 1.04)" font-size="11.3" text-anchor="middle">20</text>
<text transform="translate(531.50 576.80) scale(1 1.06)" font-size="17" text-anchor="middle">Frequency (kHz)</text>
<text transform="translate(381.50 497.60) rotate(-90)" font-size="17" text-anchor="start">Amplitude</text>
<path d="M408.70,446.80 L419.10,472.90 L429.70,479.60 L440.50,456.30 L450.40,452.60 L461.20,466.50 L471.60,451.60 L482.40,441.60 L493.00,456.10 L524.10,404.50 L534.60,414.90 L544.50,437.10 L554.90,441.20 L566.30,448.00 L576.70,456.30 L587.10,472.90 L596.40,478.50 L607.80,488.90 L618.20,497.20 L628.50,508.20 L638.90,511.10 L649.30,517.60 L659.70,516.30" fill="none" stroke="#3333cc" stroke-width="1.3" stroke-linejoin="round"/>
<path d="M408.60,738.5 L408.60,606.60 L659.80,606.60 L659.80,738.5" fill="none" stroke="#868686" stroke-width="1.4"/>
<line x1="408.00" y1="738.5" x2="660.40" y2="738.5" stroke="#6e6e6e" stroke-width="1.1"/>
<line x1="408.60" y1="738.50" x2="408.60" y2="742.50" stroke="#666" stroke-width="1" />
<text transform="translate(408.60 762.50) scale(1 1.04)" font-size="11.3" text-anchor="middle">0</text>
<line x1="465.90" y1="738.50" x2="465.90" y2="742.50" stroke="#666" stroke-width="1" />
<text transform="translate(465.90 762.50) scale(1 1.04)" font-size="11.3" text-anchor="middle">5</text>
<line x1="523.20" y1="738.50" x2="523.20" y2="742.50" stroke="#666" stroke-width="1" />
<text transform="translate(523.20 762.50) scale(1 1.04)" font-size="11.3" text-anchor="middle">10</text>
<line x1="580.50" y1="738.50" x2="580.50" y2="742.50" stroke="#666" stroke-width="1" />
<text transform="translate(580.50 762.50) scale(1 1.04)" font-size="11.3" text-anchor="middle">15</text>
<line x1="637.80" y1="738.50" x2="637.80" y2="742.50" stroke="#666" stroke-width="1" />
<text transform="translate(637.80 762.50) scale(1 1.04)" font-size="11.3" text-anchor="middle">20</text>
<text transform="translate(531.50 789.80) scale(1 1.06)" font-size="17" text-anchor="middle">Frequency (kHz)</text>
<text transform="translate(381.50 715.10) rotate(-90)" font-size="17" text-anchor="start">Amplitude</text>
<path d="M408.60,638.50 L409.60,626.00 L410.50,618.30 L411.30,628.00 L412.00,645.00 L412.80,665.00 L413.60,685.00 L414.40,705.00 L415.20,720.00 L416.20,730.00 L417.50,734.50 L419.00,735.80 L420.00,735.49 L422.00,736.50 L424.00,736.08 L426.00,735.52 L428.00,736.90 L430.00,736.42 L432.00,736.68 L434.00,735.53 L436.00,736.77 L438.00,735.51 L440.00,736.78 L442.00,736.13 L444.00,735.94 L446.00,736.28 L448.00,736.88 L450.00,735.83 L452.00,735.61 L454.00,736.24 L456.00,735.78 L458.00,735.58 L460.00,735.66 L462.00,735.48 L464.00,735.72 L466.00,735.90 L468.00,735.89 L470.00,736.62 L472.00,735.86 L474.00,736.20 L476.00,735.68 L478.00,735.96 L480.00,735.43 L482.00,735.80 L484.00,735.42 L486.00,736.57 L488.00,736.28 L490.00,735.70 L492.00,736.16 L494.00,736.90 L496.00,735.57 L498.00,736.71 L500.00,736.09 L502.00,736.19 L504.00,736.74 L506.00,736.03 L508.00,736.21 L510.00,736.50 L512.00,736.97 L514.00,735.95 L516.00,736.73 L518.00,736.53 L520.00,736.42 L522.00,736.05 L524.00,735.96 L526.00,735.49 L528.00,735.61 L530.00,735.51 L532.00,736.59 L534.00,735.81 L536.00,735.66 L538.00,735.54 L540.00,736.75 L542.00,736.79 L544.00,736.47 L546.00,735.85 L548.00,735.98 L550.00,735.09 L552.00,734.20 L554.00,735.09 L556.00,735.98 L558.00,735.82 L560.00,735.97 L562.00,735.51 L564.00,735.06 L566.00,734.60 L568.00,735.06 L570.00,735.51 L572.00,735.97 L574.00,736.20 L576.00,736.01 L578.00,736.16 L580.00,736.20 L582.00,735.72 L584.00,736.21 L586.00,735.41 L588.00,735.82 L590.00,735.54 L592.00,736.04 L594.00,735.47 L596.00,735.44 L598.00,735.89 L600.00,735.77 L602.00,736.34 L604.00,736.25 L606.00,736.60 L608.00,736.45 L610.00,736.55 L612.00,736.60 L614.50,736.29 L617.00,736.33 L619.50,736.94 L622.00,736.35 L624.50,736.90 L627.00,736.91 L629.50,736.52 L632.00,737.23 L634.50,737.36 L637.00,737.24 L639.50,737.40 L642.00,737.55 L644.50,737.09 L647.00,737.49 L649.50,737.55 L652.00,737.90 L654.50,737.96 L657.00,738.06" fill="none" stroke="#3333cc" stroke-width="1.3" stroke-linejoin="round"/>
</svg>
</body></html>
